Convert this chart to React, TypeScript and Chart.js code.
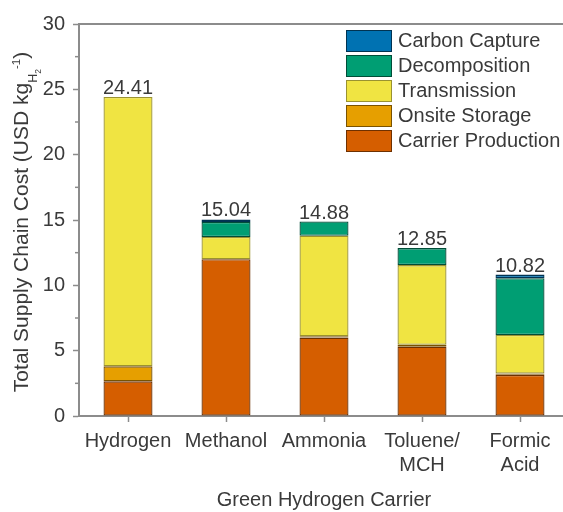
import React, { useEffect, useRef } from 'react';
import { Chart, registerables } from 'chart.js';

Chart.register(...registerables);

const categories: (string | string[])[] = ['Hydrogen', 'Methanol', 'Ammonia', ['Toluene/', 'MCH'], ['Formic', 'Acid']];
const carrierProduction = [2.65, 12.0, 6.0, 5.3, 3.15];
const onsiteStorage = [1.15, 0.0, 0.1, 0.15, 0.1];
const transmission = [20.61, 1.7, 7.7, 6.1, 2.95];
const decomposition = [0, 1.15, 1.08, 1.3, 4.35];
const carbonCapture = [0, 0.19, 0, 0, 0.27];
const totalLabels = ['24.41', '15.04', '14.88', '12.85', '10.82'];
const yMin = 0;
const yMax = 30;
const yStep = 5;
const yMinorTicks = [2.5, 7.5, 12.5, 17.5, 22.5, 27.5];

const FONT = '"Liberation Sans", Arial, Helvetica, sans-serif';
const TEXT = '#3a3a3a';
const AXIS = '#8c8c8c';

const yTitlePlugin = {
  id: 'yTitle',
  afterDraw(chart: any) {
    const ctx = chart.ctx;
    const { top, bottom } = chart.chartArea;
    const parts = [
      { t: 'Total Supply Chain Cost (USD kg', s: 21, dy: 0 },
      { t: 'H', s: 12.5, dy: 9 },
      { t: '2', s: 8.5, dy: 13 },
      { t: '-1', s: 11.5, dy: -8.5 },
      { t: ')', s: 21, dy: 0 },
    ];
    ctx.save();
    let total = 0;
    const widths = parts.map((p) => {
      ctx.font = `${p.s}px ${FONT}`;
      const w = ctx.measureText(p.t).width;
      total += w;
      return w;
    });
    ctx.translate(28, (top + bottom) / 2 + 2);
    ctx.rotate(-Math.PI / 2);
    ctx.fillStyle = TEXT;
    ctx.textBaseline = 'alphabetic';
    ctx.textAlign = 'left';
    let x = -total / 2;
    parts.forEach((p, i) => {
      ctx.font = `${p.s}px ${FONT}`;
      ctx.fillText(p.t, x, p.dy);
      x += widths[i];
    });
    ctx.restore();
  },
};

const decorPlugin = {
  id: 'decor',
  afterDraw(chart: any) {
    const ctx = chart.ctx;
    const { left, right, top } = chart.chartArea;
    const y = chart.scales.y;
    const xs = chart.scales.x;
    ctx.save();
    ctx.strokeStyle = AXIS;
    ctx.lineWidth = 2;
    ctx.beginPath();
    ctx.moveTo(left - 1, top);
    ctx.lineTo(right + 20, top);
    ctx.stroke();
    ctx.lineWidth = 1.5;
    yMinorTicks.forEach((v) => {
      const py = y.getPixelForValue(v);
      ctx.beginPath();
      ctx.moveTo(left - 4, py);
      ctx.lineTo(left, py);
      ctx.stroke();
    });
    ctx.fillStyle = TEXT;
    ctx.font = `20px ${FONT}`;
    ctx.textAlign = 'center';
    ctx.textBaseline = 'alphabetic';
    const ds = chart.data.datasets;
    totalLabels.forEach((lab, i) => {
      let sum = 0;
      ds.forEach((d: any) => { sum += d.data[i] || 0; });
      ctx.fillText(lab, xs.getPixelForValue(i), y.getPixelForValue(sum) - 3);
    });
    const order = ds.slice().reverse();
    const lx = left + 267;
    const ly = top + 6;
    order.forEach((d: any, i: number) => {
      const ry = ly + i * 25;
      ctx.fillStyle = d.backgroundColor;
      ctx.fillRect(lx, ry, 46, 22);
      ctx.strokeStyle = d.borderColor;
      ctx.lineWidth = 1;
      ctx.strokeRect(lx + 0.5, ry + 0.5, 45, 21);
      ctx.fillStyle = TEXT;
      ctx.textAlign = 'left';
      ctx.textBaseline = 'middle';
      ctx.fillText(d.label, lx + 52, ry + 11);
    });
    ctx.restore();
  },
};

export default function App() {
  const ref = useRef<HTMLCanvasElement | null>(null);
  useEffect(() => {
    if (!ref.current) return;
    Chart.defaults.font.family = FONT;
    const mk = (label: string, data: number[], bg: string, bc: string) => ({
      label, data, backgroundColor: bg, borderColor: bc, borderWidth: 1.3, borderSkipped: false as any,
      categoryPercentage: 1, barPercentage: 0.5,
    });
    const chart = new Chart(ref.current, {
      type: 'bar',
      data: {
        labels: categories as any,
        datasets: [
          mk('Carrier Production', carrierProduction, '#D55E00', '#6e3000'),
          mk('Onsite Storage', onsiteStorage, '#E69F00', '#7a5200'),
          mk('Transmission', transmission, '#F0E442', '#9a9230'),
          mk('Decomposition', decomposition, '#009E73', '#004d38'),
          mk('Carbon Capture', carbonCapture, '#0072B2', '#003352'),
        ],
      },
      options: {
        animation: false,
        responsive: false,
        layout: { padding: { top: 24, right: 7, left: 0, bottom: 0 } },
        plugins: { legend: { display: false }, tooltip: { enabled: false } },
        scales: {
          x: {
            stacked: true,
            offset: true,
            grid: { display: true, offset: false, drawOnChartArea: false, drawTicks: true, tickLength: 6, tickColor: AXIS, tickWidth: 1.5 },
            border: { display: true, color: AXIS, width: 2 },
            ticks: { color: TEXT, font: { size: 20 }, padding: 7, maxRotation: 0, autoSkip: false },
            title: { display: true, text: 'Green Hydrogen Carrier', color: TEXT, font: { size: 20 }, padding: { top: 0, bottom: 0 } },
            afterFit: (s: any) => { s.height = 96; },
          },
          y: {
            stacked: true,
            min: yMin,
            max: yMax,
            grid: { display: true, drawOnChartArea: false, drawTicks: true, tickLength: 6, tickColor: AXIS, tickWidth: 1.5 },
            border: { display: true, color: AXIS, width: 2 },
            ticks: { stepSize: yStep, color: TEXT, font: { size: 20 }, padding: 8 },
            afterFit: (s: any) => { s.width = 79; },
          },
        },
      },
      plugins: [yTitlePlugin, decorPlugin],
    });
    return () => chart.destroy();
  }, []);
  return (
    <div style={{ position: 'absolute', left: 0, top: 0, width: 563, height: 512, overflow: 'hidden', background: '#fff' }}>
      <canvas ref={ref} width={576} height={512} style={{ display: 'block' }} />
    </div>
  );
}
